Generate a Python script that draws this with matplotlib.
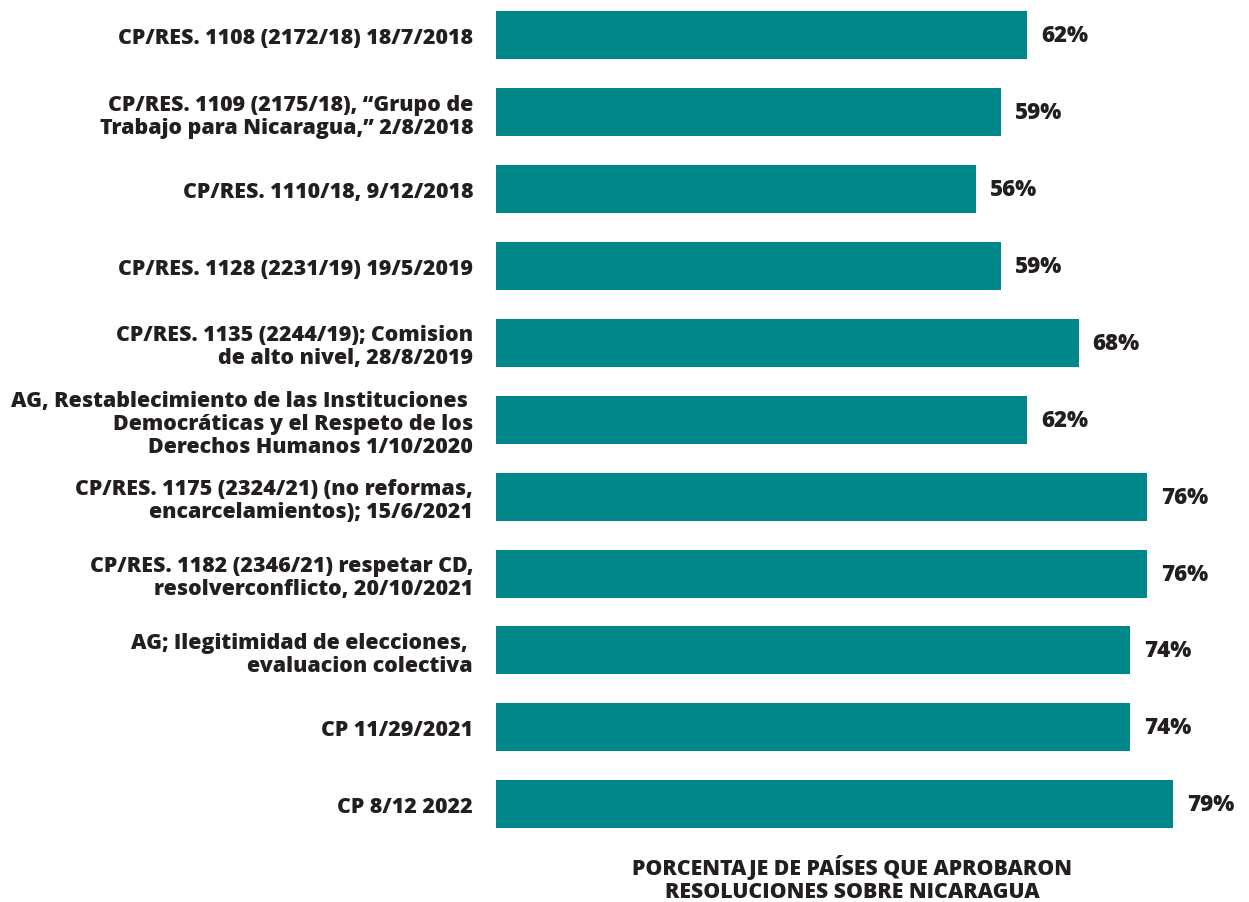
import matplotlib
matplotlib.use("Agg")
import matplotlib.pyplot as plt

# Data
labels = [
    "CP/RES. 1108 (2172/18) 18/7/2018",
    "CP/RES. 1109 (2175/18), \u201cGrupo de\nTrabajo para Nicaragua,\u201d 2/8/2018",
    "CP/RES. 1110/18, 9/12/2018",
    "CP/RES. 1128 (2231/19) 19/5/2019",
    "CP/RES. 1135 (2244/19); Comision\nde alto nivel, 28/8/2019",
    "AG, Restablecimiento de las Instituciones \nDemocráticas y el Respeto de los\nDerechos Humanos 1/10/2020",
    "CP/RES. 1175 (2324/21) (no reformas,\nencarcelamientos); 15/6/2021",
    "CP/RES. 1182 (2346/21) respetar CD,\nresolverconflicto, 20/10/2021",
    "AG; Ilegitimidad de elecciones, \nevaluacion colectiva",
    "CP 11/29/2021",
    "CP 8/12 2022",
]
values = [62, 59, 56, 59, 68, 62, 76, 76, 74, 74, 79]
title = "PORCENTAJE DE PAÍSES QUE APROBARON\nRESOLUCIONES SOBRE NICARAGUA"

bar_color = "#00878a"
text_color = "#231f20"
plt.rcParams['font.family'] = ['Open Sans', 'DejaVu Sans']

fig = plt.figure(figsize=(12.49, 9.03), dpi=100)
ax = fig.add_axes([496 / 1249, 1 - 843 / 903, 1 - 496 / 1249, 843 / 903])

pos = list(range(len(values)))
bars = ax.barh(pos, values, height=0.624, color=bar_color)

ax.set_xlim(0, 87.9)
ax.set_ylim(10.49, -0.47)

ax.set_yticks(pos)
ax.set_yticklabels(labels, fontsize=15.4, fontweight=800, color=text_color,
                   linespacing=1.13)
ax.tick_params(axis='y', length=0, pad=16.5)
ax.set_xticks([])
for s in ax.spines.values():
    s.set_visible(False)

# value labels
for b, v in zip(bars, values):
    ax.annotate(f"{v}%", (b.get_width(), b.get_y() + b.get_height() / 2),
                xytext=(10, 0), textcoords='offset points', va='center',
                ha='left', fontsize=16, fontweight=800, color=text_color)

fig.text(852 / 1249, 1 - 879 / 903, title, ha='center', va='center',
         fontsize=15.3, fontweight=800, color=text_color, linespacing=1.15)

fig.savefig("out.png", dpi=100)
